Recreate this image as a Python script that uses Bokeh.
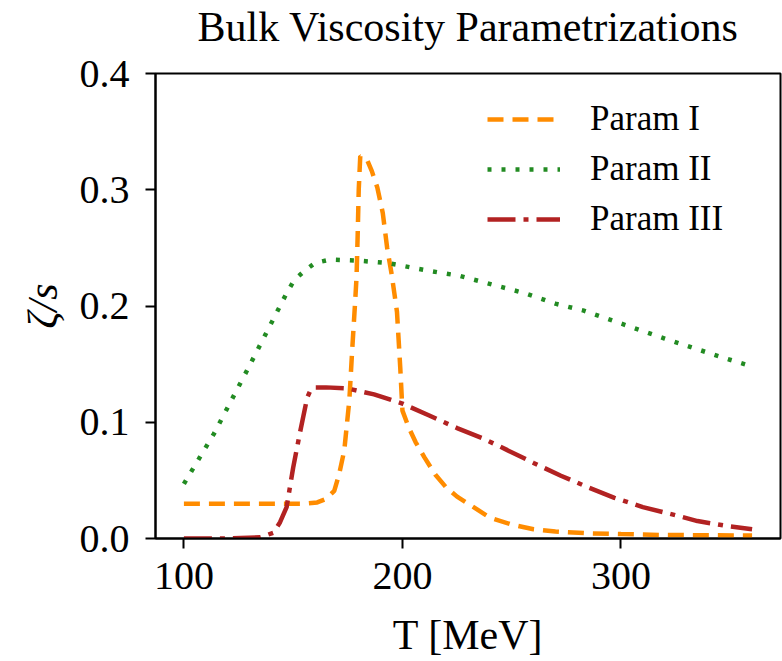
from bokeh.plotting import figure
from bokeh.embed import file_html
from bokeh.resources import INLINE
from bokeh.models import Range1d, Legend, LegendItem, FixedTicker, Title

# ---- data ----
t1 = [100, 120, 140, 155, 161, 165, 168.8, 171, 173.4, 175.7, 177, 178.4, 179.0, 179.5, 180.0,
      180.7, 182, 184, 186, 188.5, 191, 193, 195, 196.3, 197.5, 199, 200, 203, 206, 210, 215,
      220, 225, 230, 240, 250, 260, 270, 285, 300, 320, 340, 360]
z1 = [0.030, 0.030, 0.030, 0.030, 0.031, 0.034, 0.041, 0.055, 0.076, 0.119, 0.162, 0.205, 0.225,
      0.26, 0.30, 0.329, 0.328, 0.325, 0.316, 0.302, 0.28, 0.25, 0.228, 0.211, 0.195, 0.147,
      0.110, 0.095, 0.083, 0.070, 0.055, 0.044, 0.036, 0.030, 0.018, 0.012, 0.008, 0.006,
      0.0045, 0.0038, 0.003, 0.0028, 0.0026]

t2 = [100, 113.7, 129, 144, 147, 150.4, 155, 160, 167, 180, 193, 213, 226, 256, 270, 283, 296,
      320, 346, 360]
z2 = [0.047, 0.090, 0.145, 0.200, 0.211, 0.222, 0.230, 0.237, 0.240, 0.239, 0.237, 0.230, 0.226,
      0.211, 0.202, 0.196, 0.1875, 0.172, 0.156, 0.148]

t3 = [100, 120, 135, 141, 144, 147, 150, 153, 156.4, 158, 160, 165, 175, 187, 200, 212, 225, 237,
      248, 260, 272.5, 285, 297, 310, 323, 335, 347.7, 360]
z3 = [0.0, 0.0, 0.001, 0.005, 0.014, 0.027, 0.061, 0.090, 0.121, 0.128, 0.130, 0.130, 0.129,
      0.124, 0.116, 0.106, 0.095, 0.086, 0.076, 0.065, 0.054, 0.044, 0.035, 0.027, 0.021, 0.015,
      0.011, 0.008]

title_text = "Bulk Viscosity Parametrizations"
labels = ["Param I", "Param II", "Param III"]
x_ticks = [100, 200, 300]
y_ticks = [0.0, 0.1, 0.2, 0.3, 0.4]

FONT = "Liberation Serif"

p = figure(width=782, height=661, output_backend="svg", toolbar_location=None,
           x_range=Range1d(87, 373), y_range=Range1d(0, 0.4),
           min_border_left=155, min_border_right=2, min_border_top=73, min_border_bottom=123)

# small empty spacer between frame and title, then the title itself above it
p.add_layout(Title(text=" ", text_font_size="10px", standoff=9), "above")
p.add_layout(Title(text=title_text, text_font=FONT, text_font_size="42px",
                   text_font_style="normal", text_color="black", align="center",
                   vertical_align="top", standoff=0), "above")

p.grid.visible = False
p.outline_line_color = "black"
p.outline_line_width = 2
p.outline_line_alpha = 1

for ax in (p.xaxis[0], p.yaxis[0]):
    ax.axis_line_width = 2
    ax.major_tick_line_width = 2
    ax.major_tick_in = 0
    ax.major_tick_out = 10
    ax.minor_tick_line_color = None
    ax.major_label_text_font = FONT
    ax.major_label_text_font_size = "40px"
    ax.major_label_text_color = "black"
    ax.axis_label_text_font = FONT
    ax.axis_label_text_font_size = "42px"
    ax.axis_label_text_color = "black"

p.xaxis.ticker = FixedTicker(ticks=x_ticks)
p.yaxis.ticker = FixedTicker(ticks=y_ticks)
p.yaxis.major_label_overrides = {v: f"{v:.1f}" for v in y_ticks}
p.xaxis.axis_label = "T [MeV]"
p.yaxis.axis_label = "ζ/s"
p.yaxis.axis_label_text_font_style = "italic"
p.xaxis.axis_label_text_font_style = "normal"
p.xaxis.major_label_standoff = 14
p.yaxis.major_label_standoff = 16
p.xaxis.axis_label_standoff = 20
p.yaxis.axis_label_standoff = 11

r1 = p.line(t1, z1, line_color="darkorange", line_width=4.5, line_dash="16 9")
r2 = p.line(t2, z2, line_color="forestgreen", line_width=4.5, line_dash="4 10")
r3 = p.line(t3, z3, line_color="firebrick", line_width=4.5, line_dash="28 8 5 8")

legend = Legend(items=[LegendItem(label=labels[0], renderers=[r1]),
                       LegendItem(label=labels[1], renderers=[r2]),
                       LegendItem(label=labels[2], renderers=[r3])],
                location=(332, 297), border_line_color=None, background_fill_alpha=0,
                label_text_font=FONT, label_text_font_size="35px", label_text_color="black",
                glyph_width=73, glyph_height=44, label_height=44, spacing=6,
                label_standoff=30, margin=0, padding=0)
p.add_layout(legend, "center")

open("out.html", "w").write(file_html(p, INLINE))
